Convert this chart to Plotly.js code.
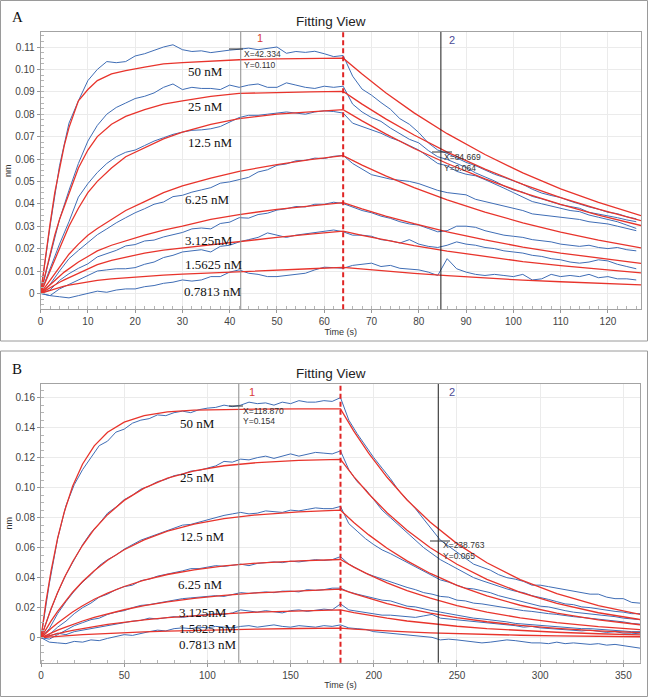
<!DOCTYPE html>
<html>
<head>
<meta charset="utf-8">
<script src="https://cdn.plot.ly/plotly-3.0.1.min.js"></script>
<style>
  html, body { margin: 0; padding: 0; background: #fff; }
  #plot { width: 649px; height: 697px; }
</style>
</head>
<body>
<div id="plot"></div>
<script>
// ---- Panel A: sensorgram, 64 s association then dissociation ----
const timeA = [0,2,4,6,8,10,12,14,16,18,20,22,24,26,28,30,32,34,36,38,40,42,44,46,48,50,52,54,56,58,60,62,64,
  66,68,70,72,74,76,78,80,82,84,86,88,90,92,94,96,98,100,102,104,106,108,110,112,114,116,118,120,122,124,126];

const raw50A = [0,.030,.057,.076,.086,.095,.100,.1035,.103,.1035,.106,.107,.1085,.110,.111,.1088,.108,.1083,.1075,.1082,.1086,.109,.1095,.1088,.1095,.110,.1072,.108,.1076,.1081,.107,.1057,.1062,
  .097,.0912,.0885,.0852,.0822,.078,.0755,.0718,.0672,.064,.0625,.0605,.0585,.057,.0552,.0532,.0518,.0502,.0487,.0465,.0448,.0437,.0428,.0412,.0398,.0386,.0376,.0362,.0356,.0342,.0333];
const raw25A = [0,.017,.033,.046,.058,.068,.075,.080,.083,.085,.087,.088,.0895,.092,.0935,.091,.092,.0915,.0915,.091,.093,.092,.093,.0935,.092,.092,.094,.093,.092,.0915,.0925,.092,.0925,
  .0845,.081,.0785,.0768,.0738,.0712,.0688,.0672,.0638,.061,.0598,.058,.0562,.0538,.052,.0502,.048,.0462,.0452,.0433,.0422,.0408,.0396,.0388,.038,.0362,.0355,.0348,.0338,.0328,.032];
const raw12A = [0,.011,.022,.032,.043,.049,.054,.058,.061,.063,.064,.066,.068,.0695,.071,.072,.0728,.073,.0735,.0745,.0765,.0785,.0795,.0795,.080,.0805,.081,.0805,.080,.081,.0815,.0812,.0805,
  .076,.0745,.0728,.0715,.0695,.068,.066,.064,.061,.058,.057,.0545,.0532,.0525,.0508,.049,.047,.045,.043,.041,.040,.039,.038,.037,.0365,.035,.034,.033,.032,.0305,.029];
const raw6A = [0,.004,.010,.0155,.0192,.0228,.0262,.0288,.0315,.0338,.036,.0378,.0398,.0408,.0432,.0438,.0452,.0462,.0472,.0492,.0498,.0508,.0518,.0542,.0552,.0572,.0578,.0592,.0594,.0604,.0602,.0612,.0616,
  .058,.0555,.053,.052,.051,.0505,.050,.049,.0475,.046,.045,.0445,.044,.042,.041,.040,.039,.038,.037,.0355,.035,.0345,.034,.0335,.033,.032,.0315,.031,.030,.029,.028];
const raw3A = [0,.0015,.0058,.0088,.0112,.0132,.0163,.0178,.0192,.0212,.0218,.0234,.0238,.0252,.0262,.0272,.0288,.0292,.0288,.0312,.0318,.0338,.0336,.0352,.0358,.0372,.0378,.0388,.0386,.0398,.0398,.0407,.0401,
  .0385,.037,.036,.0345,.0335,.032,.031,.0305,.029,.0275,.028,.030,.030,.0295,.028,.027,.026,.0255,.025,.024,.0235,.023,.022,.0215,.021,.0215,.0205,.020,.0205,.0195,.019];
const raw1A = [0,-.001,.002,.004,.006,.008,.010,.0105,.011,.011,.0115,.013,.014,.016,.017,.0185,.019,.0195,.0185,.021,.0215,.023,.024,.025,.027,.026,.025,.026,.0265,.027,.0275,.0283,.0275,
  .026,.026,.0255,.024,.0235,.0225,.024,.022,.021,.0205,.0215,.023,.022,.0215,.0205,.020,.019,.0185,.018,.017,.0165,.0155,.015,.014,.0135,.014,.015,.0145,.013,.012,.011];
const raw0A = [0,-.001,-.0015,-.002,-.001,0,.001,.0005,.0015,.002,.002,.003,.0035,.0045,.005,.006,.0055,.006,.0075,.0075,.0095,.0105,.009,.0085,.0075,.0075,.008,.0085,.009,.0105,.0117,.0115,.0112,
  .0125,.013,.0135,.012,.0125,.0112,.011,.0105,.0095,.008,.0155,.011,.0095,.0085,.008,.0085,.008,.0075,.0085,.006,.0065,.0085,.0075,.008,.0075,.0085,.007,.0075,.0065,.0065,.006];

const fitTimeA = [0,1,2,3,4,5,6,8,10,12,15,18,22,26,30,36,42,50,57,64,68,73,79,86,94,102,110,118,127];
const fit50A = [0,.016,.031,.045,.056,.066,.074,.086,.091,.095,.098,.0995,.101,.1025,.103,.1038,.1043,.1047,.1049,.105,
  .0979,.0896,.0806,.0713,.0620,.0538,.0467,.0406,.0347];
const fit25A = [0,.009,.018,.026,.033,.039,.045,.056,.064,.070,.0755,.079,.082,.0845,.086,.088,.0893,.0898,.090,.0902,
  .0845,.0779,.0707,.0631,.0555,.0487,.0428,.0376,.0325];
const fit12A = [0,.005,.010,.015,.020,.025,.030,.038,.045,.050,.056,.061,.065,.069,.072,.0755,.078,.080,.081,.082,
  .0770,.0712,.0647,.0580,.0511,.0450,.0397,.0349,.0303];
const fit6A = [0,.003,.006,.009,.012,.015,.0175,.022,.026,.029,.033,.037,.041,.045,.048,.0515,.0545,.0575,.0597,.0615,
  .0573,.0525,.0472,.0418,.0363,.0315,.0274,.0238,.0203];
const fit3A = [0,.002,.004,.006,.0077,.0095,.011,.014,.0165,.019,.0215,.0235,.026,.0283,.030,.033,.0352,.0375,.039,.0405,
  .0377,.0345,.0311,.0275,.0239,.0207,.0180,.0157,.0134];
const fit1A = [0,.0013,.0026,.0039,.005,.006,.007,.009,.011,.0128,.0147,.0162,.018,.0193,.0203,.0218,.0232,.025,.0265,.0278,
  .0259,.0237,.0213,.0189,.0164,.0142,.0124,.0108,.0092];
const fit0A = [0,.0007,.0014,.002,.0026,.0032,.0037,.0045,.0052,.0058,.0065,.007,.0076,.0082,.0086,.0092,.0097,.0104,.011,.0116,
  .0108,.0099,.0089,.0079,.0068,.0059,.0052,.0045,.0038];

// ---- Panel B: 180 s association then dissociation ----
const timeB = [0,5,10,15,20,25,30,35,40,45,50,55,60,65,70,75,80,85,90,95,100,105,110,115,120,125,130,135,140,145,
  150,155,160,165,170,175,180,185,190,195,200,205,210,215,220,225,230,235,240,245,250,255,260,265,270,275,280,285,290,295,
  300,305,310,315,320,325,330,335,340,345,350,355,360];

const raw50B = [0,.036,.066,.088,.102,.112,.120,.128,.131,.137, .139,.143,.145,.146,.1485,.148,.150,.151,.150,.152,
  .153,.1535,.155,.154,.155,.157,.156,.1565,.155,.157, .156,.158,.157,.157,.158,.1575,.160,.145,.136,.128,
  .120,.113,.106,.098,.092,.086,.079,.072,.065,.061, .057,.053,.049,.047,.045,.042,.040,.039,.0375,.035,
  .035,.034,.033,.0325,.0315,.030,.029,.029,.027,.026, .026,.0235,.023];
const raw25B = [0,.016,.030,.042,.052,.062,.070,.076,.083,.087, .092,.095,.099,.101,.104,.1055,.108,.109,.111,.1115,
  .113,.1145,.1175,.117,.119,.1185,.120,.121,.1195,.121, .1225,.121,.122,.1235,.123,.1225,.1245,.112,.104,.099,
  .092,.085,.080,.075,.070,.065,.060,.056,.052,.049, .046,.043,.040,.038,.036,.034,.0325,.031,.030,.028,
  .027,.0255,.024,.0225,.022,.0205,.020,.019,.018,.0175, .017,.016,.016];
const raw12B = [0,.006,.016,.024,.031,.037,.042,.048,.052,.055, .059,.062,.065,.067,.069,.071,.0725,.075,.0755,.077,
  .079,.080,.0815,.0825,.0835,.0825,.083,.0845,.084,.0835, .085,.0845,.0855,.0865,.086,.086,.0875,.076,.071,.066,
  .062,.0585,.056,.053,.0505,.047,.044,.041,.0385,.037, .035,.033,.0325,.0315,.030,.028,.0265,.025,.024,.0225,
  .021,.0205,.019,.018,.017,.0165,.016,.015,.0145,.014, .013,.0125,.012];
const raw6B = [0,.002,.007,.011,.016,.020,.023,.027,.029,.032, .034,.035,.038,.039,.041,.042,.043,.0445,.046,.046,
  .047,.048,.0475,.0485,.049,.048,.0495,.050,.0505,.050, .051,.0505,.0515,.052,.0515,.052,.054,.049,.046,.043,
  .041,.039,.037,.035,.0335,.032,.030,.029,.0275,.027, .025,.0245,.023,.0225,.0215,.0205,.020,.0185,.018,.0175,
  .0165,.016,.0155,.0145,.014,.0135,.013,.012,.0115,.011, .0105,.0095,.009];
const raw3B = [0,-.001,.002,.005,.008,.010,.012,.013,.0155,.017, .018,.020,.0215,.022,.023,.0245,.025,.026,.0265,.027,
  .027,.028,.0275,.029,.030,.0295,.030,.0305,.030,.031, .031,.0305,.032,.0315,.032,.033,.033,.0305,.029,.0275,
  .026,.025,.0245,.0225,.021,.0205,.019,.018,.017,.016, .0145,.014,.013,.0125,.012,.011,.0105,.0095,.009,.009,
  .0085,.008,.0075,.007,.0065,.006,.006,.0055,.005,.005, .0045,.004,.004];
const raw1B = [0,.001,.003,.002,.004,.005,.006,.0075,.008,.009, .0105,.011,.0115,.013,.0125,.0135,.014,.0135,.0145,.015,
  .0155,.016,.0155,.0165,.0185,.0175,.017,.018,.0175,.0165, .018,.0185,.0175,.018,.019,.0185,.0225,.0185,.0175,.017,
  .016,.015,.015,.0145,.014,.0135,.0145,.0155,.013,.0125, .0115,.011,.0105,.010,.0095,.009,.0085,.008,.007,.0075,
  .0065,.006,.006,.0055,.005,.0045,.005,.004,.0035,.004, .003,.003,.0025];
const raw0B = [0,-.003,-.0035,-.004,-.0025,-.003,-.0015,-.002,-.0005,.001, .002,.0015,.003,.004,.005,.0045,.006,.0065,.006,.007,
  .0065,.0075,.007,.0065,.0075,.008,.007,.0075,.0085,.0075, .007,.008,.0075,.007,.008,.0075,.0085,.0065,.006,.0055,
  .004,.0035,.003,.002,.0015,.001,.0005,.0002,-.0015,-.001, -.0015,-.002,-.003,-.0035,-.003,-.0025,-.0015,-.002,-.003,-.0035,
  -.0035,-.004,-.003,-.004,-.0035,-.004,-.0045,-.004,-.005,-.0045, -.0055,-.0065,-.007];

const fitTimeB = [0,3,6,10,14,19,25,32,40,50,62,76,92,110,130,155,180,188,197,208,220,234,250,268,288,310,335,360];
const fit50B = [0,.024,.0442,.0663,.0838,.1009,.1158,.1279,.1369,.1437,.148,.1505,.1517,.1522,.1524,.1525,.1525,
  .1377,.1229,.1069,.0918,.0769,.0627,.0499,.0387,.0293,.0214,.0155];
const fit25B = [0,.010,.0191,.0301,.0399,.0506,.0616,.0723,.082,.0915,.0997,.1063,.1112,.1146,.1167,.1182,.1189,
  .1074,.0958,.0833,.0716,.0599,.0489,.0389,.0302,.0228,.0166,.0121];
const fit12B = [0,.0057,.011,.0175,.0235,.0303,.0374,.0446,.0516,.0586,.0652,.071,.0757,.0793,.0819,.0838,.085,
  .0768,.0685,.0596,.0512,.0428,.0349,.0278,.0216,.0163,.0119,.0086];
const fit6B = [0,.0032,.0061,.0098,.0132,.0171,.0213,.0256,.0297,.0341,.0383,.0421,.0452,.0478,.0497,.0512,.0521,
  .047,.042,.0365,.0314,.0263,.0214,.017,.0132,.01,.0073,.0053];
const fit3B = [0,.0016,.0031,.005,.0067,.0088,.0111,.0135,.0159,.0186,.0213,.0239,.0262,.0282,.0299,.0314,.0324,
  .0293,.0261,.0227,.0195,.0163,.0133,.0106,.0082,.0062,.0045,.0033];
const fit1B = [0,.0009,.0017,.0027,.0037,.0048,.0061,.0074,.0088,.0103,.0119,.0134,.0147,.0159,.017,.0179,.0185,
  .0167,.0149,.013,.0111,.0093,.0076,.006,.0047,.0036,.0026,.0019];
const fit0B = [0,.0003,.0005,.0009,.0012,.0016,.002,.0024,.0029,.0034,.0039,.0044,.0049,.0054,.0057,.0061,.0063,
  .0057,.0051,.0044,.0038,.0032,.0026,.0021,.0016,.0012,.0009,.0006];

const concLabels = ['50 nM', '25 nM', '12.5 nM', '6.25 nM', '3.125nM', '1.5625 nM', '0.7813 nM'];

// cursor readouts shown on the plots
const cursorA = [42.334, 64, 84.669];
const cursorB = [118.870, 180, 238.763];
const readoutA = [['X=42.334', 'Y=0.110'], ['X=84.669', 'Y=0.064']];
const readoutB = [['X=118.870', 'Y=0.154'], ['X=238.763', 'Y=0.065']];

const tickValsA = [0,.01,.02,.03,.04,.05,.06,.07,.08,.09,.10,.11];
const tickTextA = ['0','0.01','0.02','0.03','0.04','0.05','0.06','0.07','0.08','0.09','0.10','0.11'];
const tickValsB = [0,.02,.04,.06,.08,.10,.12,.14,.16];
const tickTextB = ['0','0.02','0.04','0.06','0.08','0.10','0.12','0.14','0.16'];

const W = 649, H = 697;
const px = x => x / W;
const py = y => 1 - y / H;

const blue = '#3f6db5';
const red = '#e8342c';

function lineTrace(x, y, xa, ya, color, width) {
    return {
        x: x, y: y, xaxis: xa, yaxis: ya,
        type: 'scatter', mode: 'lines',
        line: { color: color, width: width },
        hoverinfo: 'skip'
    };
}

const traces = [];
[raw50A, raw25A, raw12A, raw6A, raw3A, raw1A, raw0A].forEach(r => traces.push(lineTrace(timeA, r, 'x', 'y', blue, 1)));
[fit50A, fit25A, fit12A, fit6A, fit3A, fit1A, fit0A].forEach(f => traces.push(lineTrace(fitTimeA, f, 'x', 'y', red, 1.3)));
[raw50B, raw25B, raw12B, raw6B, raw3B, raw1B, raw0B].forEach(r => traces.push(lineTrace(timeB, r, 'x2', 'y2', blue, 1)));
[fit50B, fit25B, fit12B, fit6B, fit3B, fit1B, fit0B].forEach(f => traces.push(lineTrace(fitTimeB, f, 'x2', 'y2', red, 1.3)));

const tickFont = { family: 'Liberation Sans, Arial, sans-serif', size: 10, color: '#444' };
const titleFont = { family: 'Liberation Sans, Arial, sans-serif', size: 9, color: '#333' };

function xAxis(domain, range, dtick, minorDtick, anchor) {
    return {
        domain: domain, range: range, anchor: anchor,
        tickmode: 'linear', tick0: 0, dtick: dtick,
        ticks: 'outside', ticklen: 3, tickcolor: '#999',
        showgrid: true, gridcolor: '#ebebeb', zeroline: false,
        showline: true, linecolor: '#a3a3a3', mirror: true,
        tickfont: tickFont,
        minor: { ticks: 'inside', ticklen: 3, tickcolor: '#b5b5b5', tickmode: 'linear', tick0: 0, dtick: minorDtick, showgrid: false },
        title: { text: 'Time (s)', font: titleFont, standoff: 1 }
    };
}
function yAxis(domain, range, vals, text, minorDtick, anchor) {
    return {
        domain: domain, range: range, anchor: anchor,
        tickmode: 'array', tickvals: vals, ticktext: text,
        ticks: 'outside', ticklen: 3, tickcolor: '#999',
        showgrid: true, gridcolor: '#ebebeb', zeroline: false,
        showline: true, linecolor: '#a3a3a3', mirror: true,
        tickfont: tickFont,
        minor: { ticks: 'inside', ticklen: 3, tickcolor: '#b5b5b5', tickmode: 'linear', tick0: 0, dtick: minorDtick, showgrid: false },
        title: { text: 'nm', font: titleFont, standoff: 1 }
    };
}

const shapes = [
    // panel frames
    { type: 'rect', xref: 'paper', yref: 'paper', x0: px(0.5), x1: px(647.5), y0: py(341), y1: py(0.5), line: { color: '#9a9a9a', width: 1 } },
    { type: 'rect', xref: 'paper', yref: 'paper', x0: px(0.5), x1: px(647.5), y0: py(696.5), y1: py(351), line: { color: '#9a9a9a', width: 1 } }
];
[[cursorA, 'x', 'y domain'], [cursorB, 'x2', 'y2 domain']].forEach(([c, xr, yr]) => {
    shapes.push({ type: 'line', xref: xr, yref: yr, x0: c[0], x1: c[0], y0: 0, y1: 1, line: { color: '#8c8c8c', width: 1 } });
    shapes.push({ type: 'line', xref: xr, yref: yr, x0: c[1], x1: c[1], y0: 0, y1: 1, line: { color: '#e02424', width: 2, dash: '5px,3px' } });
    shapes.push({ type: 'line', xref: xr, yref: yr, x0: c[2], x1: c[2], y0: 0, y1: 1, line: { color: '#1a1a1a', width: 1 } });
});
// small crosshair marks at the cursor readouts
[[229, 243, 49], [432, 452, 152], [229, 243, 406], [430, 450, 541]].forEach(([a, b, y]) => {
    shapes.push({ type: 'line', xref: 'paper', yref: 'paper', x0: px(a), x1: px(b), y0: py(y), y1: py(y), line: { color: '#333', width: 1 } });
});

const annotations = [];
function note(text, x, y, font, xanchor) {
    annotations.push({ text: text, x: px(x), y: py(y), xref: 'paper', yref: 'paper', showarrow: false,
        xanchor: xanchor || 'center', yanchor: 'middle', font: font });
}
const serif = { family: 'Liberation Serif, Times New Roman, serif', size: 13, color: '#111' };
const small = { family: 'Liberation Sans, Arial, sans-serif', size: 8.5, color: '#333' };

note('A', 17, 17, { family: 'Liberation Serif, serif', size: 15, color: '#111' });
note('B', 17, 369, { family: 'Liberation Serif, serif', size: 15, color: '#111' });
note('Fitting View', 331, 21, { family: 'Liberation Sans, Arial, sans-serif', size: 13.5, color: '#222' });
note('Fitting View', 331, 373, { family: 'Liberation Sans, Arial, sans-serif', size: 13.5, color: '#222' });
note('1', 260, 38, { family: 'Liberation Sans, Arial, sans-serif', size: 11, color: '#d83a3a' });
note('2', 452, 40, { family: 'Liberation Sans, Arial, sans-serif', size: 11, color: '#4b4b96' });
note('1', 252, 392, { family: 'Liberation Sans, Arial, sans-serif', size: 11, color: '#d83a3a' });
note('2', 452, 392, { family: 'Liberation Sans, Arial, sans-serif', size: 11, color: '#4b4b96' });

note(readoutA[0][0], 242, 54, small, 'left');
note(readoutA[0][1], 242, 65, small, 'left');
note(readoutA[1][0], 442, 157, small, 'left');
note(readoutA[1][1], 442, 168, small, 'left');
note(readoutB[0][0], 241, 411, small, 'left');
note(readoutB[0][1], 241, 421, small, 'left');
note(readoutB[1][0], 441, 545, small, 'left');
note(readoutB[1][1], 441, 556, small, 'left');

const labelPosA = [[186, 72], [186, 106], [186, 142], [183, 200], [183, 240], [183, 264], [182, 291]];
const labelPosB = [[178, 423], [178, 477], [178, 536], [176, 584], [177, 612], [177, 628], [177, 644]];
concLabels.forEach((t, i) => {
    note(t, labelPosA[i][0], labelPosA[i][1], serif, 'left');
    note(t, labelPosB[i][0], labelPosB[i][1], serif, 'left');
});

const layout = {
    width: W, height: H,
    margin: { l: 0, r: 0, t: 0, b: 0 },
    paper_bgcolor: '#fff', plot_bgcolor: '#fff',
    showlegend: false,
    xaxis: xAxis([px(40.6), px(641)], [0, 127], 10, 2, 'y'),
    yaxis: yAxis([py(309.3), py(32)], [-0.0071, 0.1167], tickValsA, tickTextA, 0.0025, 'x'),
    xaxis2: xAxis([px(41), px(640)], [0, 360], 50, 10, 'y2'),
    yaxis2: yAxis([py(662.7), py(384)], [-0.0167, 0.1691], tickValsB, tickTextB, 0.005, 'x2'),
    shapes: shapes,
    annotations: annotations
};

Plotly.newPlot('plot', traces, layout, { staticPlot: true, displayModeBar: false });
</script>
</body>
</html>
